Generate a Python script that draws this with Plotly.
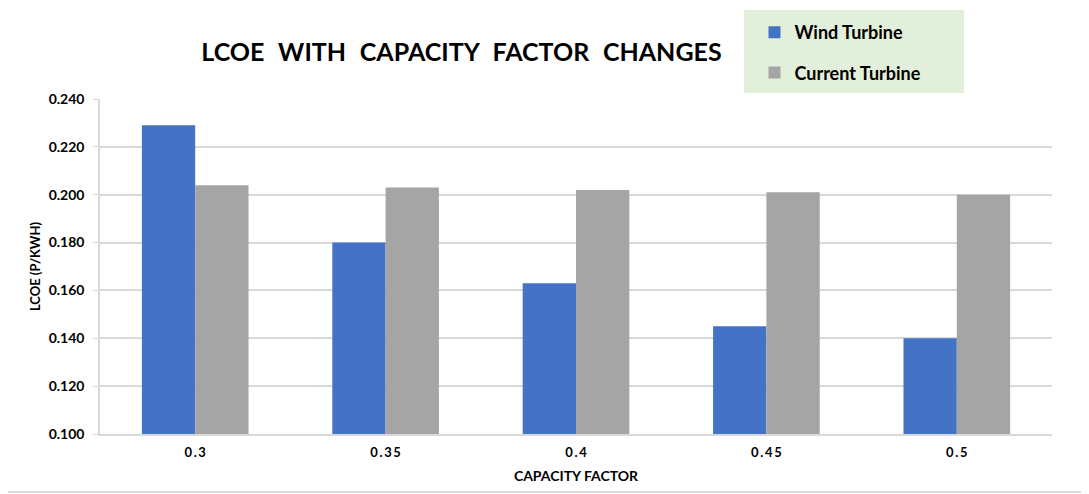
import plotly.graph_objects as go

categories = ["0.3", "0.35", "0.4", "0.45", "0.5"]
wind_turbine = [0.229, 0.180, 0.163, 0.145, 0.140]
current_turbine = [0.204, 0.203, 0.202, 0.201, 0.200]
y_ticks = [0.100, 0.120, 0.140, 0.160, 0.180, 0.200, 0.220, 0.240]

def spaced(s):
    return "\u2009".join(list(s))

tick_text = ["<b>%s</b>" % spaced(c) for c in categories]

FONT = "Lato"
SP = "&nbsp;&nbsp;\u200a"
title_text = "<b>" + SP.join(["LCOE", "WITH", "CAPACITY", "FACTOR", "CHANGES"]) + "</b>"

fig = go.Figure()
fig.add_trace(go.Bar(x=categories, y=wind_turbine, name="<b>Wind Turbine</b>",
                     marker=dict(color="#4472C4", line=dict(width=0)),
                     legendgroup="a"))
fig.add_trace(go.Bar(x=categories, y=current_turbine, name="<b>Current Turbine</b>",
                     marker=dict(color="#A5A5A5", line=dict(width=0)),
                     legendgroup="b"))

fig.update_layout(
    width=1081, height=486,
    margin=dict(l=92, r=37, t=91, b=60, autoexpand=False),
    paper_bgcolor="white", plot_bgcolor="white",
    barmode="group", bargap=0.44, bargroupgap=0,
    font=dict(family=FONT, color="#000000"),
    title=dict(text=title_text,
               x=0.4195, xanchor="center", y=0.9084, yanchor="middle",
               font=dict(size=25, family=FONT, color="#000000")),
    legend=dict(x=0.6875, xanchor="left", y=1.2537, yanchor="top",
                bgcolor="rgba(0,0,0,0)", font=dict(size=18, family=FONT, color="#000000"),
                traceorder="grouped", tracegroupgap=14, itemwidth=30),
    shapes=[
        dict(type="rect", xref="paper", yref="paper", x0=0.6765, x1=0.9076,
             y0=1.0179, y1=1.2657, fillcolor="#E2EFDA", line=dict(width=0), layer="below"),
        dict(type="line", xref="paper", yref="paper", x0=-0.11, x1=1.04,
             y0=-0.173, y1=-0.173, line=dict(color="#D9D9D9", width=2)),
    ],
)

fig.update_xaxes(
    tickmode="array", tickvals=categories, ticktext=tick_text,
    tickfont=dict(size=13, family=FONT, color="#000000"),
    showline=True, linecolor="#D9D9D9", linewidth=1.5,
    ticks="", showgrid=False, ticklabelstandoff=6,
    title=dict(text="<b>CAPACITY FACTOR</b>", font=dict(size=14, family=FONT, color="#000000"), standoff=12),
)

fig.update_yaxes(
    range=[0.100, 0.240], tickmode="array", tickvals=y_ticks,
    ticktext=["<b>%.3f</b>" % v for v in y_ticks],
    tickfont=dict(size=14, family=FONT, color="#000000"),
    showgrid=True, gridcolor="#D9D9D9", gridwidth=1.5,
    showline=True, linecolor="#D9D9D9", linewidth=1.5,
    ticks="outside", ticklen=5, tickcolor="#D9D9D9",
    ticklabelstandoff=6,
    zeroline=False,
    title=dict(text="<b>LCOE (P/KWH)</b>", font=dict(size=13, family=FONT, color="#000000"), standoff=5),
)

fig.write_html("out.html")
